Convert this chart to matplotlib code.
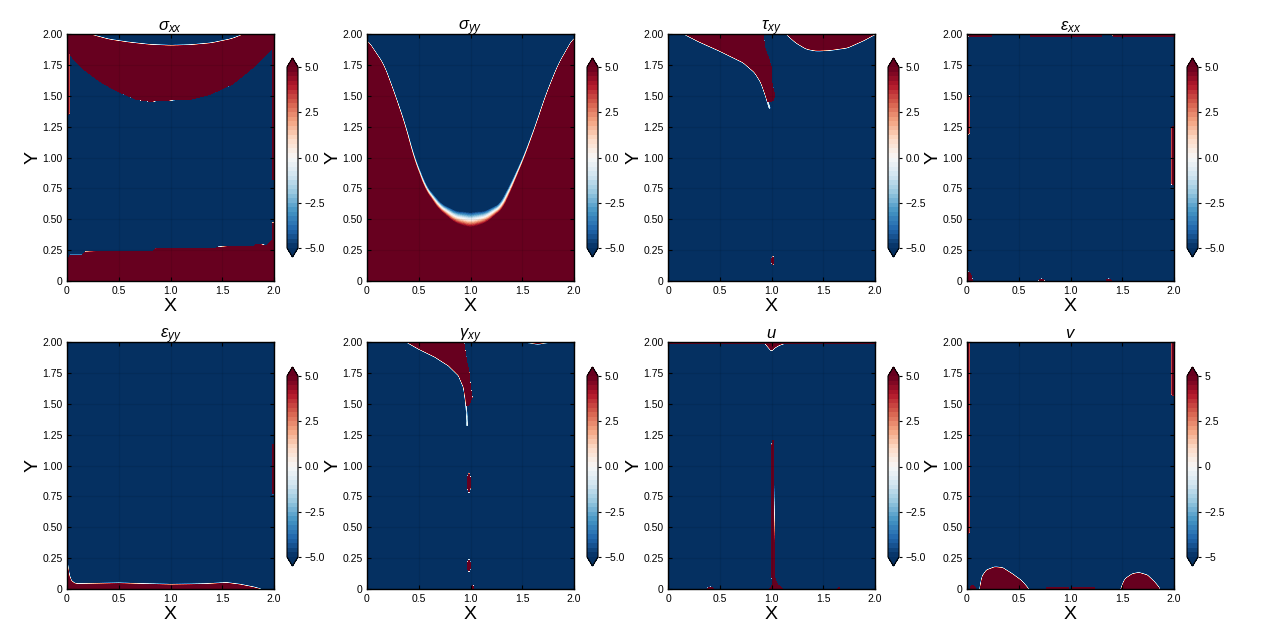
import numpy as np
import matplotlib
matplotlib.use('Agg')
import matplotlib.pyplot as plt

plt.rcParams['font.family'] = ['Liberation Sans', 'DejaVu Sans']
plt.rcParams['mathtext.fontset'] = 'custom'
plt.rcParams['mathtext.it'] = 'Liberation Sans:italic'
plt.rcParams['mathtext.rm'] = 'Liberation Sans'
plt.rcParams['mathtext.sf'] = 'Liberation Sans'

# ---------------- text / ticks ----------------
titles = [r'$\sigma_{xx}$', r'$\sigma_{yy}$', r'$\tau_{xy}$', r'$\varepsilon_{xx}$',
          r'$\varepsilon_{yy}$', r'$\gamma_{xy}$', r'$u$', r'$v$']
x_ticks = [0, 0.5, 1.0, 1.5, 2.0]
x_tick_labels = ['0', '0.5', '1.0', '1.5', '2.0']
y_ticks = [0, 0.25, 0.5, 0.75, 1.0, 1.25, 1.5, 1.75, 2.0]
y_tick_labels = ['0', '0.25', '0.50', '0.75', '1.00', '1.25', '1.50', '1.75', '2.00']
cbar_ticks = [-5, -2.5, 0, 2.5, 5]
cbar_labels = ['\u22125.0', '\u22122.5', '0.0', '2.5', '5.0']
cbar_labels_v = ['\u22125', '\u22122.5', '0', '2.5', '5']

# ---------------- boundary curves ----------------
# sigma_xx
sxx_arc_x = [0.05, 0.2, 0.4, 0.6, 0.8, 1.0, 1.2, 1.4, 1.6, 1.72, 1.85]
sxx_arc_y = [2.10, 2.0, 1.955, 1.93, 1.912, 1.905, 1.91, 1.925, 1.96, 2.0, 2.06]
sxx_mid_x = [0.0, 0.04, 0.15, 0.31, 0.475, 0.67, 0.8, 0.99, 1.19, 1.38, 1.6, 1.8, 1.93, 2.0]
sxx_mid_y = [1.89, 1.82, 1.72, 1.62, 1.54, 1.47, 1.455, 1.465, 1.47, 1.51, 1.595, 1.73, 1.84, 1.89]
sxx_bot_x = [0.0, 0.03, 0.15, 0.17, 0.83, 0.85, 1.44, 1.46, 1.8, 1.82, 1.93, 1.98, 2.0]
sxx_bot_y = [0.17, 0.21, 0.21, 0.235, 0.24, 0.26, 0.265, 0.275, 0.28, 0.295, 0.29, 0.33, 0.36]
sxx_edges = [(-0.1, 0.02, 1.35, 1.9), (1.982, 2.1, 0.82, 1.89), (1.982, 2.1, 0.35, 0.47)]

# sigma_yy
syy_x = [0.0, 0.16, 0.27, 0.37, 0.45, 0.565, 0.7, 0.85, 1.0, 1.15, 1.3, 1.39, 1.52, 1.63, 1.73, 1.85, 2.0]
syy_y = [1.95, 1.75, 1.5, 1.25, 1.0, 0.75, 0.6, 0.515, 0.49, 0.515, 0.6, 0.75, 1.0, 1.25, 1.5, 1.75, 1.97]
syy_k_x = [0.0, 0.4, 0.55, 0.7, 0.85, 1.0, 1.15, 1.3, 1.45, 1.6, 2.0]
syy_k = [1000, 700, 350, 180, 100, 78, 100, 180, 350, 700, 1000]

# tau_xy
txy_left_x = [0.0, 0.16, 0.3, 0.5, 0.73, 0.84, 0.9, 0.95, 0.98, 1.0, 1.1]
txy_left_y = [2.08, 2.0, 1.94, 1.865, 1.77, 1.69, 1.61, 1.49, 1.40, 1.36, 1.3]
txy_edge_y = [0.0, 1.44, 1.46, 1.51, 1.62, 1.73, 1.81, 1.89, 2.0, 2.1]
txy_edge_x = [0.9, 0.9, 1.02, 1.03, 1.0, 1.0, 0.97, 0.935, 0.92, 0.92]
txy_right_x = [1.05, 1.145, 1.24, 1.34, 1.435, 1.56, 1.73, 1.89, 2.0, 2.1]
txy_right_y = [2.1, 2.0, 1.93, 1.88, 1.865, 1.87, 1.89, 1.95, 2.0, 2.05]
txy_blobs = [(1.012, 0.165, 0.01, 0.032)]

# eps_xx
exx_boxes = [(0.016, 0.24, 1.982, 2.1), (0.61, 1.30, 1.982, 2.1), (1.41, 2.1, 1.982, 2.1),
             (-0.1, 0.02, 1.19, 1.5), (1.98, 2.1, 0.78, 1.25)]
exx_blobs = [(0.0, 0.0, 0.05, 0.075), (0.72, 0.0, 0.025, 0.016), (1.37, 0.0, 0.025, 0.016)]

# eps_yy
eyy_x = [0.0, 0.01, 0.02, 0.04, 0.07, 0.1, 0.3, 0.5, 0.75, 1.0, 1.2, 1.35, 1.54, 1.67, 1.8, 1.86, 1.9]
eyy_y = [0.21, 0.17, 0.11, 0.065, 0.045, 0.04, 0.043, 0.046, 0.04, 0.035, 0.037, 0.04, 0.049, 0.035, 0.0135, 0.0, -0.02]
eyy_boxes = [(1.982, 2.1, 0.77, 1.17)]

# gamma_xy
gxy_left_x = [0.2, 0.387, 0.5, 0.66, 0.79, 0.887, 0.935, 0.958, 0.968, 0.98]
gxy_left_y = [2.06, 2.0, 1.946, 1.88, 1.81, 1.73, 1.635, 1.50, 1.325, 1.2]
gxy_edge_y = [0.0, 1.47, 1.49, 1.55, 1.635, 1.77, 1.82, 1.905, 2.0, 2.1]
gxy_edge_x = [0.9, 0.9, 0.984, 1.016, 1.0, 0.984, 0.968, 0.952, 0.935, 0.93]
gxy_right_x = [1.4, 1.5, 1.65, 1.8, 1.9]
gxy_right_y = [2.03, 2.005, 1.985, 2.005, 2.03]
gxy_blobs = [(0.985, 0.86, 0.014, 0.075), (0.985, 0.19, 0.014, 0.045), (1.02, 0.0, 0.01, 0.03)]

# u
u_line_y = [0.0, 0.03, 0.06, 0.1, 0.2, 1.15, 1.2, 1.21]
u_line_w = [0.13, 0.06, 0.035, 0.026, 0.022, 0.02, 0.01, -0.01]
u_line_cy = [0.0, 0.1, 1.2]
u_line_cx = [1.045, 1.015, 1.012]
u_top_x = [0.88, 0.94, 0.98, 1.0, 1.03, 1.07, 1.12, 1.2]
u_top_y = [2.08, 1.99, 1.95, 1.93, 1.955, 1.975, 1.99, 2.06]
u_boxes = [(-0.1, 2.1, 1.988, 2.1)]
u_blobs = [(0.41, 0.0, 0.03, 0.016), (1.65, 0.0, 0.012, 0.012)]

# v
v_blob1_x = [0.11, 0.13, 0.145, 0.19, 0.27, 0.34, 0.435, 0.52, 0.565, 0.59, 0.62]
v_blob1_y = [-0.08, 0.015, 0.095, 0.15, 0.176, 0.17, 0.12, 0.068, 0.027, 0.0, -0.05]
v_blob2_x = [1.47, 1.5, 1.53, 1.6, 1.66, 1.74, 1.81, 1.855, 1.88]
v_blob2_y = [-0.06, 0.027, 0.08, 0.12, 0.13, 0.11, 0.054, 0.008, -0.04]
v_boxes = [(-0.1, 0.02, 0.45, 2.1), (1.98, 2.1, 1.57, 2.1), (0.77, 0.98, -0.1, 0.014), (1.02, 1.23, -0.1, 0.014)]
v_blobs = [(0.055, 0.0, 0.025, 0.03)]

# ---------------- field construction ----------------
SAT = 20.0
SHARP = 6000.0
KLINE = 900.0
KBOX = 5000.0
xs = np.linspace(0, 2, 501)
ys = np.linspace(0, 2, 501)
X, Y = np.meshgrid(xs, ys)


def clip(v):
    return np.clip(v, -SAT, SAT)


def smooth(a, n):
    if n <= 1:
        return a
    pad = np.pad(a, n // 2, mode='edge')
    return np.convolve(pad, np.ones(n) / n, mode='valid')


def dist_above(cx, cy, n=5):
    f = smooth(np.interp(xs, cx, cy), n)
    fp = np.gradient(f, xs)
    return (Y - f[None, :]) / np.sqrt(1 + fp ** 2)[None, :]


def above(cx, cy, k, n=5):
    k = np.asarray(k, dtype=float)
    if k.ndim == 1:
        k = k[None, :]
    return clip(k * dist_above(cx, cy, n))


def left_of(gy, gx, k):
    g = np.interp(ys, gy, gx)
    return clip(k * (g[:, None] - X))


def box(b, k):
    x0, x1, y0, y1 = b
    d = np.minimum.reduce([X - x0, x1 - X, Y - y0, y1 - Y])
    return clip(k * d)


def ellipse(e, k):
    cx, cy, ax_, ay_ = e
    r = np.sqrt(((X - cx) / ax_) ** 2 + ((Y - cy) / ay_) ** 2)
    return clip(k * (1 - r) * min(ax_, ay_))


base = -SAT * np.ones_like(X)
fields = []

# sigma_xx
f1 = np.maximum(np.minimum(above(sxx_mid_x, sxx_mid_y, SHARP, 9), -above(sxx_arc_x, sxx_arc_y, KLINE, 21)),
                -above(sxx_bot_x, sxx_bot_y, SHARP, 1))
for b in sxx_edges:
    f1 = np.maximum(f1, box(b, KBOX))
fields.append(f1)

# sigma_yy
kx = smooth(np.interp(xs, syy_k_x, syy_k), 41)
fields.append(-above(syy_x, syy_y, kx, 21))

# tau_xy
L3 = np.minimum(above(txy_left_x, txy_left_y, KLINE, 9), left_of(txy_edge_y, txy_edge_x, SHARP))
T3 = np.where(Y > 1.40, clip(-KLINE * np.abs(dist_above(txy_left_x, txy_left_y, 9))), -SAT)
R3 = above(txy_right_x, txy_right_y, KLINE, 15)
f3 = np.maximum.reduce([L3, T3, R3])
for e in txy_blobs:
    f3 = np.maximum(f3, ellipse(e, KBOX))
fields.append(f3)

# eps_xx
f4 = base.copy()
for b in exx_boxes:
    f4 = np.maximum(f4, box(b, KBOX))
for e in exx_blobs:
    f4 = np.maximum(f4, ellipse(e, KBOX))
fields.append(f4)

# eps_yy
f5 = -above(eyy_x, eyy_y, KLINE, 3)
for b in eyy_boxes:
    f5 = np.maximum(f5, box(b, KBOX))
fields.append(f5)

# gamma_xy
L6 = np.minimum(above(gxy_left_x, gxy_left_y, KLINE, 3), left_of(gxy_edge_y, gxy_edge_x, SHARP))
T6 = np.where(Y > 1.32, clip(-KLINE * np.abs(dist_above(gxy_left_x, gxy_left_y, 3))), -SAT)
R6 = above(gxy_right_x, gxy_right_y, KLINE, 9)
f6 = np.maximum.reduce([L6, T6, R6])
for e in gxy_blobs:
    f6 = np.maximum(f6, ellipse(e, KBOX))
fields.append(f6)

# u
w7 = np.interp(ys, u_line_y, u_line_w)
c7 = np.interp(ys, u_line_cy, u_line_cx)
f7 = clip(6000 * (w7[:, None] / 2 - np.abs(X - c7[:, None])))
f7 = np.maximum(f7, above(u_top_x, u_top_y, KLINE, 5))
for b in u_boxes:
    f7 = np.maximum(f7, box(b, KBOX))
for e in u_blobs:
    f7 = np.maximum(f7, ellipse(e, KBOX))
fields.append(f7)

# v
f8 = np.maximum(-above(v_blob1_x, v_blob1_y, KLINE, 7), -above(v_blob2_x, v_blob2_y, KLINE, 7))
for b in v_boxes:
    f8 = np.maximum(f8, box(b, KBOX))
for e in v_blobs:
    f8 = np.maximum(f8, ellipse(e, KBOX))
fields.append(f8)

# ---------------- figure ----------------
W, H = 1268, 638
fig = plt.figure(figsize=(W / 100, H / 100), dpi=100)
col_left = [67, 367, 668, 967]
row_top = [34, 342]
ax_w, ax_h = 207, 247
levels = np.linspace(-5, 5, 41)

for i in range(8):
    r, c = divmod(i, 4)
    l = col_left[c]
    t = row_top[r]
    ax = fig.add_axes([l / W, 1 - (t + ax_h) / H, ax_w / W, ax_h / H])
    cs = ax.contourf(X, Y, fields[i], levels=levels, cmap='RdBu_r', extend='both')
    ax.set_xlim(0, 2)
    ax.set_ylim(0, 2)
    ax.set_xticks(x_ticks)
    ax.set_xticklabels(x_tick_labels)
    ax.set_yticks(y_ticks)
    ax.set_yticklabels(y_tick_labels)
    ax.tick_params(direction='in', length=3, width=0.8, labelsize=7.5, pad=3.5,
                   top=True, right=True, colors='black')
    ax.tick_params(axis='y', pad=3)
    ax.grid(True, color='k', alpha=0.08, lw=0.8)
    ax.set_axisbelow(False)
    for sp in ax.spines.values():
        sp.set_linewidth(1.0)
        sp.set_color('black')
    ax.set_title(titles[i], fontsize=12, pad=3)
    ax.set_xlabel('X', fontsize=14, labelpad=1.5)
    ax.set_ylabel('Y', fontsize=14, labelpad=0.5)

    ctop = t + (24 if r == 0 else 25)
    cax = fig.add_axes([(l + 220) / W, 1 - (ctop + 199) / H, 11 / W, 199 / H])
    cb = fig.colorbar(cs, cax=cax, ticks=cbar_ticks)
    cb.ax.set_yticklabels(cbar_labels_v if i == 7 else cbar_labels)
    cb.ax.tick_params(direction='out', length=2.5, width=0.8, labelsize=7.5, pad=2)
    cb.outline.set_linewidth(0.8)

fig.savefig('out.png', dpi=100)
